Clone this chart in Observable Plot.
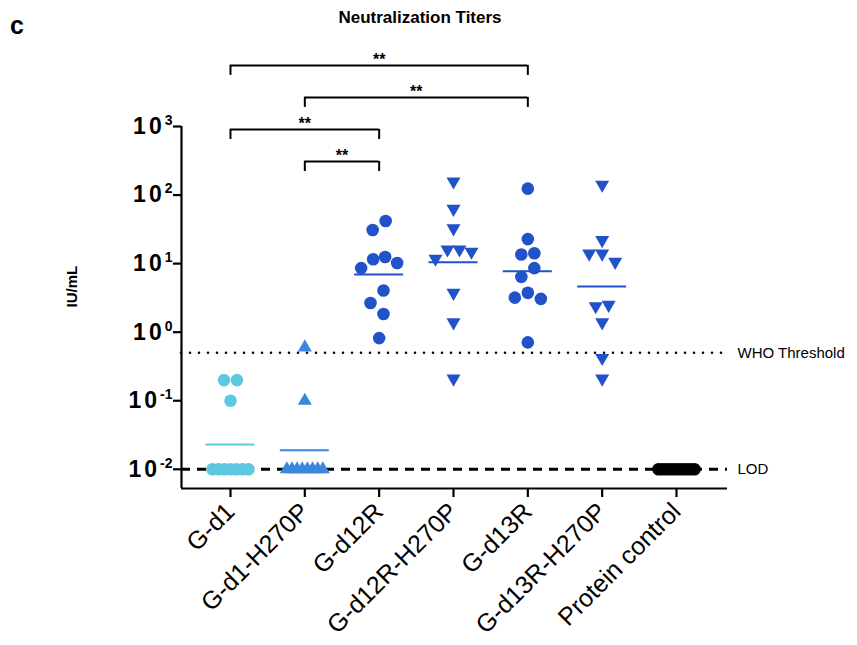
<!DOCTYPE html>
<html><head><meta charset="utf-8">
<script src="https://cdn.jsdelivr.net/npm/d3@7"></script>
<script src="https://cdn.jsdelivr.net/npm/@observablehq/plot@0.6"></script>
<style>
body{margin:0;background:#fff;font-family:"Liberation Sans",Arial,sans-serif;}
#wrap{position:relative;width:857px;height:645px;}
#wrap svg{position:absolute;left:0;top:0;}
#panel{position:absolute;left:10px;top:11px;font-weight:bold;font-size:25px;line-height:normal;}
#title{position:absolute;left:0;width:840px;top:8px;text-align:center;font-weight:bold;font-size:17px;line-height:normal;}
</style></head><body>
<div id="wrap"><div id="panel">c</div><div id="title">Neutralization Titers</div></div>
<script>
// ---- data ----
const categories = ["G-d1", "G-d1-H270P", "G-d12R", "G-d12R-H270P", "G-d13R", "G-d13R-H270P", "Protein control"];
const gd1      = [0.2, 0.2, 0.1, 0.01, 0.01, 0.01, 0.01, 0.01, 0.01, 0.01];
const gd1H     = [0.6, 0.1, 0.01, 0.01, 0.01, 0.01, 0.01, 0.01, 0.01, 0.01];
const gd12R    = [41.9, 30.9, 12.5, 11.6, 10.2, 8.6, 4.05, 2.67, 1.84, 0.82];
const gd12RH   = [158, 62.9, 32.7, 16.1, 16.1, 14.9, 11.8, 3.75, 1.39, 0.21];
const gd13R    = [124, 22.8, 14.2, 13.6, 8.6, 6.4, 3.75, 3.19, 3.06, 0.71];
const gd13RH   = [141.6, 22, 14, 14, 10.6, 2.5, 2.39, 1.39, 0.42, 0.21];
const protein  = [0.01, 0.01, 0.01, 0.01, 0.01, 0.01, 0.01, 0.01, 0.01, 0.01];
const yTicks = [0.01, 0.1, 1, 10, 100, 1000];
const whoThreshold = 0.5;
const lod = 0.01;
const bracketFrom  = ["G-d1", "G-d1-H270P", "G-d1", "G-d1-H270P"];
const bracketTo    = ["G-d13R", "G-d13R", "G-d12R", "G-d12R"];
const bracketLabel = ["**", "**", "**", "**"];
const bracketRow   = [3, 2, 1, 0];

// ---- styles / layout ----
const groups = [gd1, gd1H, gd12R, gd12RH, gd13R, gd13RH, protein];
const colors = ["#5ec8e1", "#3b87dc", "#2252c9", "#2252c9", "#2252c9", "#2252c9", "#000000"];
const sqrt3 = Math.sqrt(3);
const triDown = {draw(ctx, size) {
  const y = -Math.sqrt(size / (sqrt3 * 3));
  ctx.moveTo(0, -y * 2); ctx.lineTo(-sqrt3 * y, y); ctx.lineTo(sqrt3 * y, y); ctx.closePath();
}};
const symbols = ["circle", "triangle", "circle", triDown, "circle", triDown, "circle"];
const radii = [6.3, 5.2, 6.3, 5.2, 6.3, 5.2, 6.3];

const W = 857, H = 645, mL = 181, mR = 130, mT = 126, mB = 157;
const xDomain = [-0.659, 6.686];
const yDomain = [Math.pow(10, -2.28), 1000];
const step = (W - mL - mR) / (xDomain[1] - xDomain[0]);
const ys = d3.scaleLog().domain(yDomain).range([H - mB, mT]);

function swarm(values, diam, maxHalf) {
  const pts = values.map(v => ({v, py: ys(v), off: 0})).sort((a, b) => a.py - b.py);
  const clusters = []; let cur = [];
  for (const p of pts) {
    if (cur.length && p.py - cur[cur.length - 1].py >= diam) { clusters.push(cur); cur = []; }
    cur.push(p);
  }
  if (cur.length) clusters.push(cur);
  for (const c of clusters) {
    const placed = [];
    for (const p of c) {
      for (let k = 0; ; k++) {
        const cands = k === 0 ? [0] : [-k * diam, k * diam];
        const ok = cands.find(o => placed.every(q => Math.abs(q.py - p.py) >= diam || Math.abs(q.off - o) >= diam));
        if (ok !== undefined) { p.off = ok; break; }
      }
      placed.push(p);
    }
    const m = d3.mean(c, p => p.off); c.forEach(p => p.off -= m);
    const mx = d3.max(c, p => Math.abs(p.off));
    if (mx > maxHalf) c.forEach(p => p.off *= maxHalf / mx);
  }
  return pts;
}

const pointMarks = groups.map((vals, i) => {
  const rows = swarm(vals, 13, 18).map(p => ({x: i + p.off / step, v: p.v}));
  return Plot.dot(rows, {x: "x", y: "v", r: radii[i], symbol: symbols[i], fill: colors[i], stroke: "none"});
});
const hw = 24.5 / step;
const means = groups.map((vals, i) => ({i, gm: Math.exp(d3.mean(vals, Math.log)), c: colors[i]}));

const brackets = bracketFrom.map((f, k) => ({
  from: categories.indexOf(f), to: categories.indexOf(bracketTo[k]),
  level: Math.pow(10, 2.49 + bracketRow[k] * 0.467), label: bracketLabel[k]
}));
const legDrop = Math.pow(10, -10 / 68.56);
const legs = brackets.flatMap(b => [{x: b.from, level: b.level}, {x: b.to, level: b.level}]);
const refLabels = [{t: "WHO Threshold", y: whoThreshold}, {t: "LOD", y: lod}];

const chart = Plot.plot({
  width: W, height: H, marginLeft: mL, marginRight: mR, marginTop: mT, marginBottom: mB,
  style: {fontFamily: "'Liberation Sans', Arial, sans-serif", color: "#000", background: "transparent"},
  x: {type: "linear", domain: xDomain},
  y: {type: "log", domain: yDomain},
  marks: [
    Plot.ruleY([whoThreshold], {stroke: "#000", strokeWidth: 2.6, strokeDasharray: "0,9", strokeLinecap: "round"}),
    Plot.ruleY([lod], {stroke: "#000", strokeWidth: 3, strokeDasharray: "9,7"}),
    ...pointMarks,
    Plot.ruleY(means, {y: "gm", x1: d => d.i - hw, x2: d => d.i + hw, stroke: "c", strokeWidth: 2}),
    Plot.ruleX([xDomain[0]], {stroke: "#000", strokeWidth: 2.2}),
    Plot.ruleY([yDomain[0]], {stroke: "#000", strokeWidth: 2.2}),
    Plot.axisX({ticks: d3.range(categories.length), tickFormat: i => categories[i], tickRotate: -45,
      fontSize: 25, tickSize: 9, tickPadding: 10, strokeWidth: 2.2, label: null}),
    Plot.axisY({ticks: yTicks, tickFormat: d => "10^" + Math.round(Math.log10(d)),
      fontSize: 23, fontWeight: "bold", tickSize: 8, tickPadding: 1, strokeWidth: 2.2, label: null}),
    Plot.text(["IU/mL"], {frameAnchor: "left", rotate: -90, dx: -109, fontSize: 15, fontWeight: "bold"}),
    Plot.text(refLabels, {x: xDomain[1], y: "y", text: "t", dx: 10, textAnchor: "start", fontSize: 15}),
    Plot.ruleY(brackets, {y: "level", x1: "from", x2: "to", stroke: "#000", strokeWidth: 2}),
    Plot.ruleX(legs, {x: "x", y1: "level", y2: d => d.level * legDrop, stroke: "#000", strokeWidth: 2}),
    Plot.text(brackets, {x: d => (d.from + d.to) / 2, y: "level", text: "label", dy: -6, fontSize: 16, fontWeight: "bold"})
  ]
});

// superscript exponents on y tick labels
const ns = "http://www.w3.org/2000/svg";
chart.querySelectorAll('g[aria-label="y-axis tick label"] text').forEach(t => {
  const parts = t.textContent.split("^");
  if (parts.length !== 2) return;
  t.textContent = "";
  const b = document.createElementNS(ns, "tspan");
  b.textContent = parts[0]; b.setAttribute("letter-spacing", "3");
  const e = document.createElementNS(ns, "tspan");
  e.textContent = parts[1]; e.setAttribute("font-size", "14"); e.setAttribute("dy", "-9");
  t.appendChild(b); t.appendChild(e);
});
document.getElementById("wrap").appendChild(chart);
</script></body></html>
